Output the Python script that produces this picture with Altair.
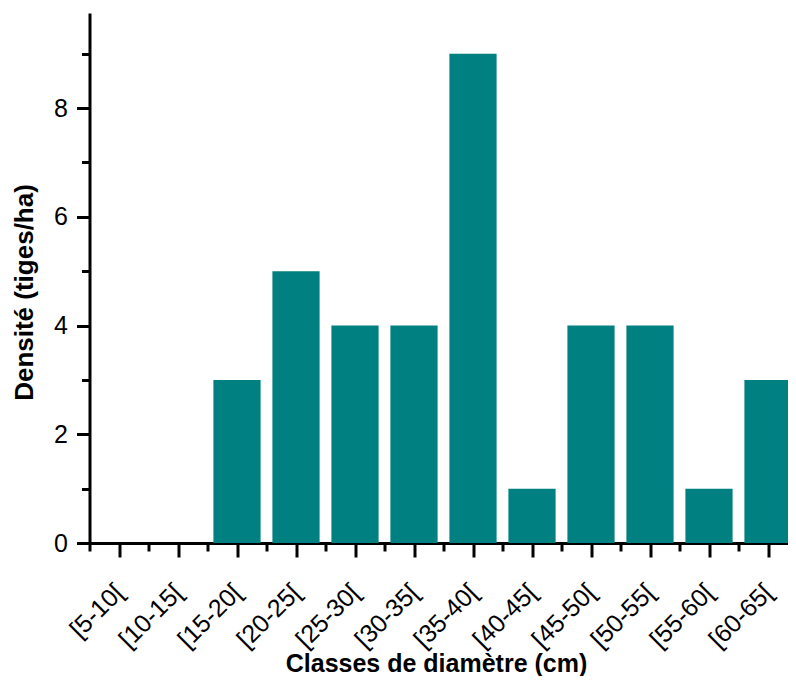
import json
import altair as alt
import pandas as pd

classes = ["[5-10[", "[10-15[", "[15-20[", "[20-25[", "[25-30[", "[30-35[",
           "[35-40[", "[40-45[", "[45-50[", "[50-55[", "[55-60[", "[60-65["]
densite = [0, 0, 3, 5, 4, 4, 9, 1, 4, 4, 1, 3]
y_tick_values = [0, 1, 2, 3, 4, 5, 6, 7, 8, 9]
x_tick_values = [i / 2 for i in range(25)]

df = pd.DataFrame({"classe": classes, "densite": densite, "idx": list(range(len(classes)))})

names_js = json.dumps(classes)
x_label_expr = f"(datum.value % 1 == 0.5) ? {names_js}[floor(datum.value)] : ''"
y_label_expr = "(datum.value % 2 == 0) ? format(datum.value, 'd') : ''"

bars = alt.Chart(df).transform_calculate(
    x0="datum.idx + 0.1", x1="datum.idx + 0.9"
).mark_bar(color="#008080").encode(
    x=alt.X("x0:Q",
            scale=alt.Scale(domain=[0, 12], range=[0, 708], nice=False, zero=False),
            axis=alt.Axis(
                values=x_tick_values,
                labelExpr=x_label_expr,
                labelOverlap=False,
                labelAngle=-45,
                labelAlign="right",
                labelBaseline="middle",
                labelPadding=31,
                labelFontSize=25,
                tickSize={"condition": {"test": "datum.value % 1 == 0.5", "value": 14}, "value": 8},
                title="Classes de diamètre (cm)",
                titleX=346.5, titleY=128,
                titleAlign="center", titleBaseline="alphabetic",
                titleFontSize=25,
            )),
    x2="x1:Q",
    y=alt.Y("densite:Q",
            scale=alt.Scale(domain=[0, 9.75], nice=False),
            axis=alt.Axis(
                values=y_tick_values,
                labelExpr=y_label_expr,
                labelOverlap=False,
                labelPadding=9,
                labelFontSize=25,
                tickSize={"condition": {"test": "datum.value % 2 == 0", "value": 13}, "value": 8},
                title="Densité (tiges/ha)",
                titleX=-57.5, titleY=279,
                titleAngle=270,
                titleAlign="center", titleBaseline="alphabetic",
                titleFontSize=26,
            )),
    y2=alt.datum(0),
)

chart = bars.properties(
    width=698.5, height=530,
    autosize=alt.AutoSizeParams(type="none"),
    padding={"left": 81.5, "top": 5, "right": 0, "bottom": 133},
    background="white",
).configure_view(stroke=None).configure_axis(
    grid=False,
    domainColor="black", domainWidth=3,
    tickColor="black", tickWidth=3,
    labelFont="Liberation Sans", labelColor="black",
    titleFont="Liberation Sans", titleFontWeight="bold", titleColor="black",
)

chart.save("out.html", embed_options={"renderer": "svg", "actions": False})
